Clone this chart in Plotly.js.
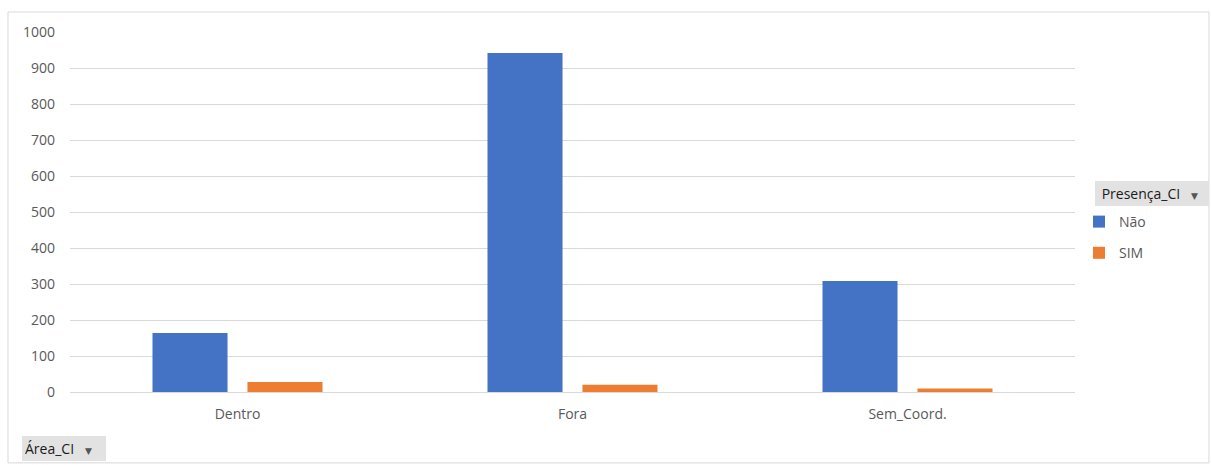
<!DOCTYPE html>
<html>
<head>
<meta charset="utf-8">
<script src="https://cdn.plot.ly/plotly-3.0.1.min.js"></script>
<style>html,body{margin:0;padding:0;background:#fff;}#chart{width:1211px;height:465px;}</style>
</head>
<body>
<div id="chart"></div>
<script>
const categories = ["Dentro", "Fora", "Sem_Coord."];
const seriesNames = ["Não", "SIM"];
const naoValues = [164, 942, 308];
const simValues = [28, 20, 10];
const yTicks = [0, 100, 200, 300, 400, 500, 600, 700, 800, 900, 1000];

const FONT = "Open Sans, Noto Sans, DejaVu Sans, sans-serif";

const traces = [
  {type: "bar", name: seriesNames[0], x: categories, y: naoValues,
   marker: {color: "#4472C4", line: {width: 0}}, legendgroup: "a", hoverinfo: "x+y+name"},
  {type: "bar", name: seriesNames[1], x: categories, y: simValues,
   marker: {color: "#ED7D31", line: {width: 0}}, legendgroup: "b", hoverinfo: "x+y+name"}
];

const layout = {
  width: 1211, height: 465,
  margin: {l: 70, r: 136, t: 32, b: 73},
  paper_bgcolor: "#ffffff", plot_bgcolor: "#ffffff",
  font: {family: FONT, size: 14, color: "#595959"},
  barmode: "group",
  bargap: 0.433,
  bargroupgap: 0.21,
  showlegend: true,
  legend: {
    x: (1079 - 70) / 1005, y: (392 - 206) / 360, xanchor: "left", yanchor: "top",
    font: {family: FONT, size: 14, color: "#595959"},
    tracegroupgap: 10, itemwidth: 30,
    bgcolor: "rgba(0,0,0,0)"
  },
  xaxis: {
    type: "category", showgrid: false, zeroline: false,
    showline: false, ticks: "", ticklabelstandoff: 12,
    tickfont: {family: FONT, size: 14, color: "#595959"},
    fixedrange: true
  },
  yaxis: {
    range: [0, 1000], tickvals: yTicks, ticktext: yTicks.map(String),
    showgrid: true, gridcolor: "#d9d9d9", gridwidth: 1,
    zeroline: true, zerolinecolor: "#d9d9d9", zerolinewidth: 1,
    showline: false, ticks: "", ticklabelstandoff: 14,
    tickfont: {family: FONT, size: 14, color: "#595959"},
    fixedrange: true
  },
  shapes: [
    {type: "rect", xref: "paper", yref: "paper",
     x0: -0.0617, x1: 1.1333, y0: -0.197, y1: 1.0556,
     line: {color: "#d9d9d9", width: 1}, fillcolor: "rgba(0,0,0,0)", layer: "below"}
  ],
  annotations: [
    {xref: "paper", yref: "paper", x: (1095 - 70) / 1005, y: (392 - 193) / 360,
     xanchor: "left", yanchor: "middle", showarrow: false,
     text: " Presença_CI   <span style='font-size:9px;color:#555'>▼</span>",
     font: {family: FONT, size: 14, color: "#1a1a1a"},
     bgcolor: "#e2e2e2", borderpad: 3, borderwidth: 0, width: 108, height: 19, align: "left"},
    {xref: "paper", yref: "paper", x: (22 - 70) / 1005, y: (392 - 449) / 360,
     xanchor: "left", yanchor: "middle", showarrow: false,
     text: "Área_CI   <span style='font-size:9px;color:#555'>▼</span>",
     font: {family: FONT, size: 14, color: "#1a1a1a"},
     bgcolor: "#e2e2e2", borderpad: 3, borderwidth: 0, width: 78, height: 19, align: "left"}
  ]
};

Plotly.newPlot("chart", traces, layout, {displayModeBar: false, responsive: false});
</script>
</body>
</html>
